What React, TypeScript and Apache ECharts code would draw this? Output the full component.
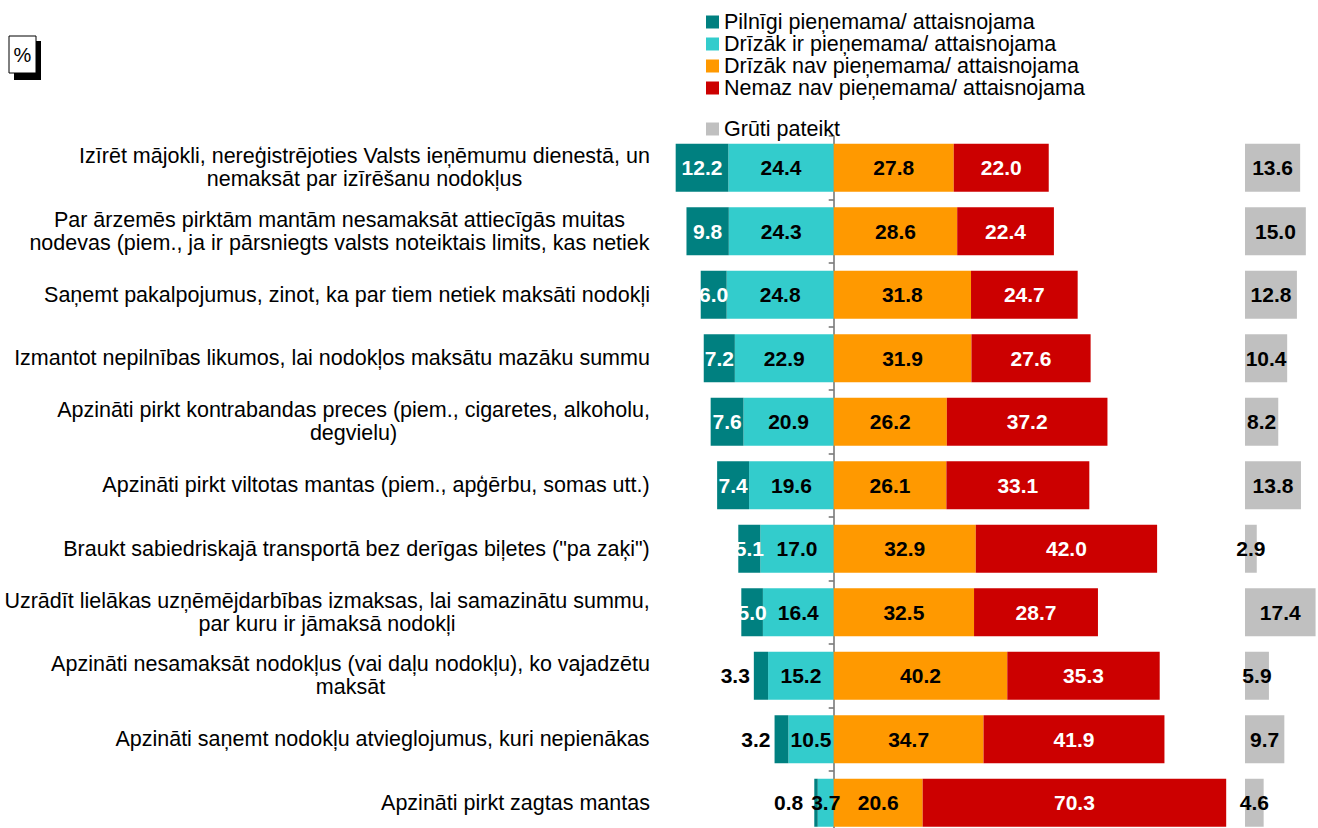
import React, { useEffect, useRef } from "react";
import * as echarts from "echarts";

const categories: string[] = [
  "Izīrēt mājokli, nereģistrējoties Valsts ieņēmumu dienestā, un\nnemaksāt par izīrēšanu nodokļus",
  "Par ārzemēs pirktām mantām nesamaksāt attiecīgās muitas\nnodevas (piem., ja ir pārsniegts valsts noteiktais limits, kas netiek",
  "Saņemt pakalpojumus, zinot, ka par tiem netiek maksāti nodokļi",
  "Izmantot nepilnības likumos, lai nodokļos maksātu mazāku summu",
  "Apzināti pirkt kontrabandas preces (piem., cigaretes, alkoholu,\ndegvielu)",
  "Apzināti pirkt viltotas mantas (piem., apģērbu, somas utt.)",
  "Braukt sabiedriskajā transportā bez derīgas biļetes (\"pa zaķi\")",
  "Uzrādīt lielākas uzņēmējdarbības izmaksas, lai samazinātu summu,\npar kuru ir jāmaksā nodokļi",
  "Apzināti nesamaksāt nodokļus (vai daļu nodokļu), ko vajadzētu\nmaksāt",
  "Apzināti saņemt nodokļu atvieglojumus, kuri nepienākas",
  "Apzināti pirkt zagtas mantas",
];

const seriesNames: string[] = [
  "Pilnīgi pieņemama/ attaisnojama",
  "Drīzāk ir pieņemama/ attaisnojama",
  "Drīzāk nav pieņemama/ attaisnojama",
  "Nemaz nav pieņemama/ attaisnojama",
  "Grūti pateikt",
];

const pilnigi: number[] = [12.2, 9.8, 6.0, 7.2, 7.6, 7.4, 5.1, 5.0, 3.3, 3.2, 0.8];
const drizakIr: number[] = [24.4, 24.3, 24.8, 22.9, 20.9, 19.6, 17.0, 16.4, 15.2, 10.5, 3.7];
const drizakNav: number[] = [27.8, 28.6, 31.8, 31.9, 26.2, 26.1, 32.9, 32.5, 40.2, 34.7, 20.6];
const nemaz: number[] = [22.0, 22.4, 24.7, 27.6, 37.2, 33.1, 42.0, 28.7, 35.3, 41.9, 70.3];
const gruti: number[] = [13.6, 15.0, 12.8, 10.4, 8.2, 13.8, 2.9, 17.4, 5.9, 9.7, 4.6];

const FONT = "'Liberation Sans', Arial, sans-serif";
const CAT_SIZE = 21.5;
const LBL_SIZE = 21;
const LEG_SIZE = 21.5;
const PX_PER_UNIT = 4.32;
const ZERO_X = 833.5;
const LEFT_MIN = -40;
const RIGHT_MAX = 95;
const GRID_TOP = 136;
const BAND = 63.5;
const BAR_W = 48;

export default function App() {
  const ref = useRef<HTMLDivElement>(null);

  useEffect(() => {
    if (!ref.current) return;
    document.body.style.margin = "0";
    document.body.style.overflow = "hidden";
    const chart = echarts.init(ref.current, null, { renderer: "svg" });

    const canvas = document.createElement("canvas");
    const ctx = canvas.getContext("2d")!;
    ctx.font = `${CAT_SIZE}px ${FONT}`;
    const rich: Record<string, any> = {};
    categories.forEach((c, i) => {
      const w = Math.max(...c.split("\n").map((l) => ctx.measureText(l).width));
      rich["l" + i] = {
        width: Math.ceil(w) + 2,
        align: "center",
        fontSize: CAT_SIZE,
        fontFamily: FONT,
        lineHeight: 23,
        color: "#000",
      };
    });

    const gridLeft = ZERO_X + LEFT_MIN * PX_PER_UNIT;
    const gridWidth = (RIGHT_MAX - LEFT_MIN) * PX_PER_UNIT;
    const g2Left = 1245;
    const g2Max = 18;
    const gridHeight = BAND * categories.length;

    const baseLabel = {
      show: true,
      fontFamily: FONT,
      fontSize: LBL_SIZE,
      fontWeight: "bold",
      formatter: (p: any) => Math.abs(p.value).toFixed(1),
    };

    const legendText = { fontSize: LEG_SIZE, lineHeight: 22, color: "#000", fontFamily: FONT };

    const option: any = {
      animation: false,
      backgroundColor: "#fff",
      textStyle: { fontFamily: FONT },
      legend: [
        {
          data: seriesNames.slice(0, 4),
          orient: "vertical",
          left: 701,
          top: 6,
          itemWidth: 13,
          itemHeight: 13,
          itemGap: 0,
          icon: "rect",
          selectedMode: false,
          textStyle: legendText,
        },
        {
          data: [seriesNames[4]],
          orient: "vertical",
          left: 701,
          top: 113,
          itemWidth: 13,
          itemHeight: 13,
          icon: "rect",
          selectedMode: false,
          textStyle: legendText,
        },
      ],
      graphic: [
        { type: "rect", shape: { x: 14, y: 41, width: 27, height: 39 }, style: { fill: "#000" } },
        { type: "rect", shape: { x: 9, y: 36, width: 27, height: 37 }, style: { fill: "#fff", stroke: "#000", lineWidth: 1 } },
        { type: "text", x: 22.5, y: 55, style: { text: "%", fontSize: 20, fontFamily: FONT, fill: "#000", align: "center", verticalAlign: "middle" } },
      ],
      grid: [
        { left: gridLeft, top: GRID_TOP, width: gridWidth, height: gridHeight },
        { left: g2Left, top: GRID_TOP, width: g2Max * PX_PER_UNIT, height: gridHeight },
      ],
      xAxis: [
        { type: "value", gridIndex: 0, min: LEFT_MIN, max: RIGHT_MAX, show: false, splitLine: { show: false } },
        { type: "value", gridIndex: 1, min: 0, max: g2Max, show: false, splitLine: { show: false } },
      ],
      yAxis: [
        {
          type: "category",
          gridIndex: 0,
          data: categories,
          inverse: true,
          position: "left",
          axisLine: { show: true, onZero: true, lineStyle: { color: "#707070", width: 1.5 } },
          axisTick: { show: true, length: 5, inside: false, lineStyle: { color: "#707070", width: 1.5 } },
          axisLabel: { show: false },
          splitLine: { show: false },
        },
        {
          type: "category",
          gridIndex: 0,
          data: categories,
          inverse: true,
          position: "left",
          axisLine: { show: false, onZero: false },
          axisTick: { show: false },
          axisLabel: {
            show: true,
            margin: 10,
            align: "right",
            formatter: (v: string, i: number) =>
              v.split("\n").map((l) => `{l${i}|${l}}`).join("\n"),
            rich,
          },
        },
        {
          type: "category",
          gridIndex: 1,
          data: categories,
          inverse: true,
          show: false,
        },
      ],
      series: [
        {
          name: seriesNames[1],
          type: "bar",
          stack: "total",
          xAxisIndex: 0,
          yAxisIndex: 0,
          barWidth: BAR_W,
          itemStyle: { color: "#33CCCC" },
          label: { ...baseLabel, position: "inside", color: "#000" },
          data: drizakIr.map((v) => -v),
        },
        {
          name: seriesNames[0],
          type: "bar",
          stack: "total",
          xAxisIndex: 0,
          yAxisIndex: 0,
          barWidth: BAR_W,
          itemStyle: { color: "#008080" },
          label: { ...baseLabel, position: "inside", color: "#fff" },
          data: pilnigi.map((v) =>
            v < 4
              ? { value: -v, label: { position: "left", color: "#000", distance: v < 1 ? 11 : 4 } }
              : -v
          ),
        },
        {
          name: seriesNames[2],
          type: "bar",
          stack: "total",
          xAxisIndex: 0,
          yAxisIndex: 0,
          barWidth: BAR_W,
          itemStyle: { color: "#FF9900" },
          label: { ...baseLabel, position: "inside", color: "#000" },
          data: drizakNav,
        },
        {
          name: seriesNames[3],
          type: "bar",
          stack: "total",
          xAxisIndex: 0,
          yAxisIndex: 0,
          barWidth: BAR_W,
          itemStyle: { color: "#CC0000" },
          label: { ...baseLabel, position: "inside", color: "#fff" },
          data: nemaz,
        },
        {
          name: seriesNames[4],
          type: "bar",
          xAxisIndex: 1,
          yAxisIndex: 2,
          barWidth: BAR_W,
          itemStyle: { color: "#C0C0C0" },
          label: { ...baseLabel, position: "inside", color: "#000" },
          data: gruti,
        },
      ],
    };

    chart.setOption(option);
    return () => chart.dispose();
  }, []);

  return (
    <div style={{ position: "absolute", left: 0, top: 0, width: 1318, height: 828, overflow: "hidden" }}>
      <div ref={ref} style={{ width: 1318, height: 850 }} />
    </div>
  );
}
